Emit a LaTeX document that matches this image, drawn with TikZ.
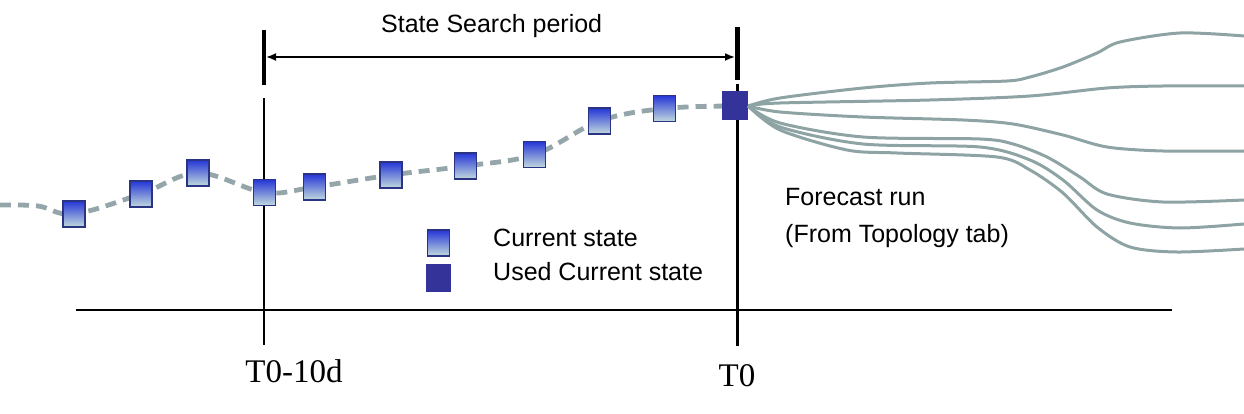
\documentclass[tikz,border=0pt]{standalone}
\usepackage{fontspec}
\setmainfont{Liberation Serif}
\newfontfamily\arialfont{Liberation Sans}
\usetikzlibrary{arrows.meta}

\definecolor{stateblue}{HTML}{2636D6}
\definecolor{statepale}{HTML}{C2DADD}
\definecolor{stateedge}{HTML}{2A3483}
\definecolor{usedblue}{HTML}{333399}
\definecolor{trackgray}{HTML}{94A6A9}
\definecolor{rungray}{HTML}{8DA3A4}

\def \boxwd {22pt}
\def \boxht {26pt}

\tikzset{
  statebox/.style={draw=stateedge, line width=1.8pt, minimum width=\boxwd, minimum height=\boxht,
    inner sep=0pt, top color=stateblue, middle color=statepale!70!stateblue, bottom color=statepale},
  usedbox/.style={fill=usedblue, minimum width=25pt, minimum height=28pt, inner sep=0pt},
  track/.style={draw=trackgray, line width=4.8pt, dash pattern=on 11pt off 7pt},
  runline/.style={draw=rungray, line width=3pt},
  sanslabel/.style={font=\arialfont\fontsize{25}{30}\selectfont, inner sep=0pt, anchor=base west},
  timelabel/.style={font=\fontsize{33}{40}\selectfont, inner sep=0pt, anchor=base},
}

\begin{document}
\begin{tikzpicture}[x=1pt,y=-1pt]
\useasboundingbox (0,0) rectangle (1244,414);

% time axis and the two marks
\coordinate (axisL) at (76,310);
\coordinate (axisR) at (1172,310);
\draw[line width=2.5pt] (axisL) -- (axisR);
\coordinate (startTop) at (264,30);
\coordinate (startBot) at (264,85);
\coordinate (startLo) at (264,98);
\coordinate (startEnd) at (264,345);
\coordinate (nowTop) at (737.5,27);
\coordinate (nowBot) at (737.5,80);
\coordinate (nowLo) at (737.5,84);
\coordinate (nowEnd) at (737.5,346);
\draw[line width=4pt] (startTop) -- (startBot);
\draw[line width=2pt] (startLo) -- (startEnd);
\draw[line width=5pt] (nowTop) -- (nowBot);
\draw[line width=3pt] (nowLo) -- (nowEnd);

% search period
\coordinate (periodL) at (264,57);
\coordinate (periodR) at (737.5,57);
\draw[{Latex[length=10pt,width=8pt]}-{Latex[length=10pt,width=8pt]}, line width=1.8pt, shorten <=2pt, shorten >=2.5pt] (periodL) -- (periodR);
\node[sanslabel] (period) at (381,33) {State Search period};

% states along the track
\foreach \n/\x/\y in {1/74/214, 2/141/194, 3/198/173, 4/264.5/192.5, 5/314.5/187,
                      6/391/175, 7/465.5/166, 8/534.5/154.5, 9/599.5/121, 10/664.5/108.5}
  \coordinate (p\n) at (\x,\y);
\coordinate (pu) at (735,106);
\draw[track] plot[smooth, tension=0.6] coordinates {(0,205) (38,206) (p1) (p2) (p3) (p4) (p5)
  (p6) (p7) (p8) (p9) (p10) (pu)};
\foreach \n in {1,...,10}
  \node[statebox] (s\n) at (p\n) {};
\node[usedbox, minimum width=26pt, minimum height=29pt] (used) at (pu) {};

% forecast runs
\draw[runline] plot[smooth] coordinates {(used.east) (780,98) (863,88) (930,83) (1007,81) (1030,77)
  (1063,67) (1097,53) (1120,42) (1180,33) (1244,36)};
\draw[runline] plot[smooth] coordinates {(used.east) (780,103) (930,100) (1030,96) (1107,88)
  (1163,86) (1244,86)};
\draw[runline] plot[smooth] coordinates {(used.east) (780,112) (863,117) (963,120) (1013,124)
  (1063,135) (1107,147) (1163,151) (1244,151)};
\draw[runline] plot[smooth] coordinates {(used.east) (780,123) (863,137) (980,139) (1013,144)
  (1047,157) (1080,177) (1107,194) (1163,202) (1244,200)};
\draw[runline] plot[smooth] coordinates {(used.east) (780,127) (863,144) (980,147) (1030,160)
  (1063,180) (1097,210) (1130,223) (1180,228) (1244,224)};
\draw[runline] plot[smooth] coordinates {(used.east) (780,130) (847,150) (897,153) (997,157)
  (1030,170) (1063,193) (1097,227) (1130,247) (1177,252) (1244,249)};
\node[sanslabel] (runlabel) at (785,205) {Forecast run};
\node[sanslabel] (runsource) at (785,242) {(From Topology tab)};

% key
\node[statebox] (keystate) at (438.5,243) {};
\node[usedbox] (keyused) at (438.5,278) {};
\node[sanslabel] (keystatetext) at (493,246) {Current state};
\node[sanslabel] (keyusedtext) at (493,280) {Used Current state};

% time labels
\node[timelabel] (tstart) at (294,382) {T0-10d};
\node[timelabel] (tnow) at (737,386) {T0};
\end{tikzpicture}
\end{document}
